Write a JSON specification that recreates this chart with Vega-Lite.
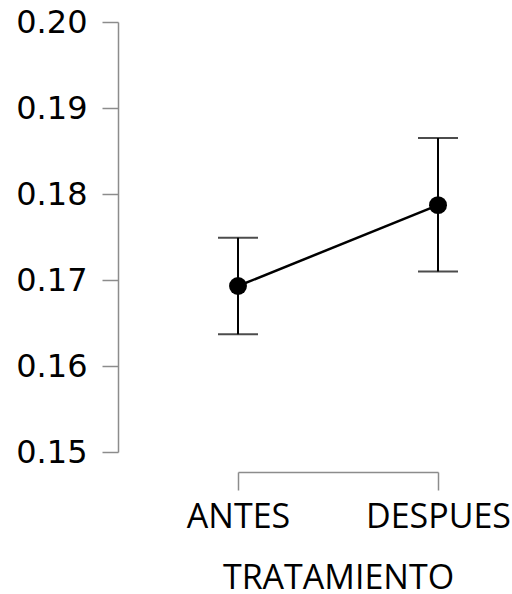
{
  "$schema": "https://vega.github.io/schema/vega-lite/v6.json",
  "autosize": {"type": "none"},
  "padding": {"left": 238, "top": 22, "right": 74, "bottom": 142},
  "width": 200,
  "height": 430,
  "background": "white",
  "config": {
    "view": {"stroke": null},
    "font": "DejaVu Sans",
    "axis": {
      "labelColor": "black",
      "titleColor": "black",
      "titleFontWeight": "normal",
      "domainColor": "#8c8c8c",
      "tickColor": "#8c8c8c",
      "domainWidth": 1.5,
      "tickWidth": 1.5,
      "grid": false
    }
  },
  "data": {
    "values": [
      {"TRATAMIENTO": "ANTES", "mean": 0.1693, "lo": 0.1637, "hi": 0.1749},
      {"TRATAMIENTO": "DESPUES", "mean": 0.1787, "lo": 0.1710, "hi": 0.1865}
    ]
  },
  "encoding": {
    "x": {
      "field": "TRATAMIENTO",
      "type": "nominal",
      "sort": ["ANTES", "DESPUES"],
      "scale": {"type": "point", "padding": 0},
      "axis": {
        "title": "TRATAMIENTO",
        "labelFont": "Open Sans",
        "titleFont": "Open Sans",
        "labelFontSize": 34,
        "titleFontSize": 34,
        "labelAngle": 0,
        "offset": 20,
        "tickSize": 18,
        "labelPadding": 10,
        "titlePadding": 27
      }
    }
  },
  "layer": [
    {
      "mark": {"type": "rule", "color": "black", "strokeWidth": 2},
      "encoding": {
        "y": {
          "field": "lo",
          "type": "quantitative",
          "scale": {"domain": [0.15, 0.20], "zero": false, "nice": false},
          "axis": {
            "title": null,
            "labelFont": "DejaVu Sans",
            "labelFontSize": 32,
            "values": [0.15, 0.16, 0.17, 0.18, 0.19, 0.20],
            "format": ".2f",
            "offset": 120,
            "tickSize": 16,
            "labelPadding": 15
          }
        },
        "y2": {"field": "hi"}
      }
    },
    {
      "mark": {"type": "tick", "color": "black", "size": 40, "thickness": 2, "orient": "horizontal"},
      "encoding": {"y": {"field": "lo", "type": "quantitative"}}
    },
    {
      "mark": {"type": "tick", "color": "black", "size": 40, "thickness": 2, "orient": "horizontal"},
      "encoding": {"y": {"field": "hi", "type": "quantitative"}}
    },
    {
      "mark": {"type": "line", "color": "black", "strokeWidth": 2.5},
      "encoding": {"y": {"field": "mean", "type": "quantitative"}}
    },
    {
      "mark": {"type": "circle", "color": "black", "opacity": 1, "size": 320},
      "encoding": {"y": {"field": "mean", "type": "quantitative"}}
    }
  ]
}
